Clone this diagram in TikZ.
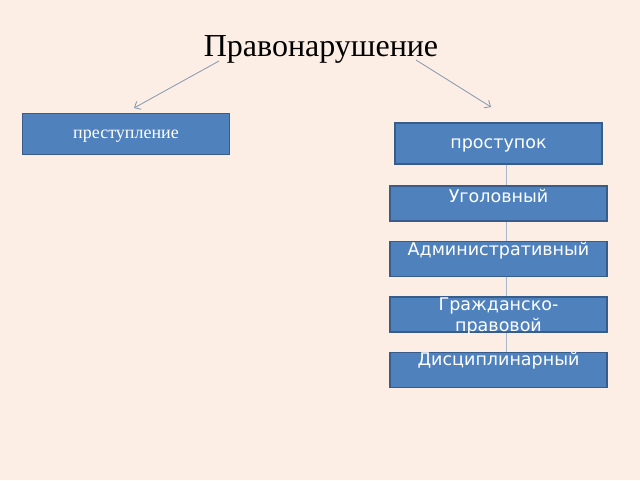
\documentclass[tikz,border=0pt]{standalone}
\usepackage{fontspec}
\setmainfont{Liberation Serif}
\newfontfamily\boxfont{DejaVu Sans}
\usetikzlibrary{arrows.meta,positioning}
\definecolor{bgpeach}{HTML}{FCEEE4}
\definecolor{boxblue}{HTML}{4F81BD}
\definecolor{boxedge}{HTML}{385D8A}
\definecolor{linkgray}{HTML}{A9B7CC}
\definecolor{arrowgray}{HTML}{8497B0}
\tikzset{
	kind/.style={draw=boxedge,fill=boxblue,line width=1.8pt,minimum width=217pt,minimum height=35pt,inner sep=0pt},
	kindtext/.style={text=white,font=\boxfont\fontsize{17.5}{21}\selectfont,inner sep=0pt,align=center},
	branch/.style={arrowgray,line width=0.8pt,-{Straight Barb[length=5pt,width=9pt]}}
}
\begin{document}
\begin{tikzpicture}[x=1pt,y=-1pt]
	% Background
	\fill[bgpeach] (0,0) rectangle (640,480);
	\useasboundingbox (0,0) rectangle (640,480);
	
	% Title
	\node[font=\fontsize{32}{36}\selectfont] (title) at (321,49) {Правонарушение};
	
	% Left box
	\node[kind,minimum width=207pt,minimum height=41pt] (prest) at (126,134) {};
	\node[text=white,font=\fontsize{18}{20}\selectfont,inner sep=0pt] (presttxt) at (126,136) {преступление};
	
	% Link behind the right column
	\draw[linkgray,line width=1pt] (506,150) coordinate (linktop) -- (506,370) coordinate (linkbot);
	
	% Right column
	\node[kind,minimum width=207pt,minimum height=41pt] (prost) at (498.5,143.5) {};
	\node[kindtext] (prosttxt) at (498.5,145) {проступок};
	\foreach \name/\yy/\ty/\txt in {ugol/203.5/196/Уголовный,admin/259/251/Административный,civil/314.5/316/{Гражданско-\\правовой},disc/370/361/Дисциплинарный}{
		\node[kind] (\name) at (498.5,\yy) {};
		\node[kindtext] (\name txt) at (498.5,\ty) {\txt};
	}
	
	% Arrows from the title
	\coordinate (lstart) at (219,61);
	\coordinate (lend) at (134,108);
	\coordinate (rstart) at (416,60);
	\coordinate (rend) at (491,107);
	\draw[branch] (lstart) -- (lend);
	\draw[branch] (rstart) -- (rend);
\end{tikzpicture}
\end{document}
